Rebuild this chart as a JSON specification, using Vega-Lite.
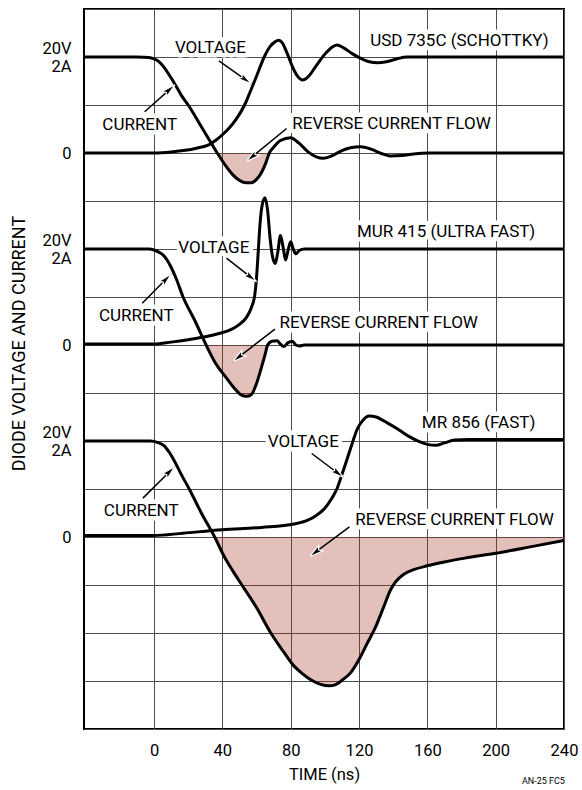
{
  "$schema": "https://vega.github.io/schema/vega-lite/v6.json",
  "width": 480,
  "height": 720,
  "autosize": {"type": "none"},
  "padding": {"left": 84, "top": 9, "right": 18, "bottom": 61},
  "background": "white",
  "config": {
    "font": "Roboto, Liberation Sans, sans-serif",
    "view": {"stroke": "black", "strokeWidth": 2},
    "axis": {"gridColor": "#4d4d4d", "gridWidth": 1, "gridOpacity": 1, "domain": false, "ticks": false, "labelColor": "black", "titleColor": "black", "labelFontWeight": "normal", "titleFontWeight": "normal"}
  },
  "title": {"text": "AN-25 FC5", "orient": "bottom", "anchor": "end", "fontSize": 9, "fontWeight": "normal", "offset": -6, "dx": -13, "color": "black"},
  "datasets": {
    "curves": [
      {"dev": "USD", "sig": "I", "t": -41, "y": 14.0}, {"dev": "USD", "sig": "I", "t": -10, "y": 14.0}, {"dev": "USD", "sig": "I", "t": -3, "y": 13.99}, {"dev": "USD", "sig": "I", "t": 0, "y": 13.96}, {"dev": "USD", "sig": "I", "t": 3, "y": 13.9}, {"dev": "USD", "sig": "I", "t": 6, "y": 13.78}, {"dev": "USD", "sig": "I", "t": 9, "y": 13.62}, {"dev": "USD", "sig": "I", "t": 12, "y": 13.45}, {"dev": "USD", "sig": "I", "t": 16, "y": 13.2}, {"dev": "USD", "sig": "I", "t": 20, "y": 13.0}, {"dev": "USD", "sig": "I", "t": 28, "y": 12.53}, {"dev": "USD", "sig": "I", "t": 37, "y": 12.0}, {"dev": "USD", "sig": "I", "t": 42, "y": 11.73}, {"dev": "USD", "sig": "I", "t": 46, "y": 11.55}, {"dev": "USD", "sig": "I", "t": 50, "y": 11.43}, {"dev": "USD", "sig": "I", "t": 54, "y": 11.38}, {"dev": "USD", "sig": "I", "t": 57, "y": 11.38}, {"dev": "USD", "sig": "I", "t": 60, "y": 11.45}, {"dev": "USD", "sig": "I", "t": 63, "y": 11.6}, {"dev": "USD", "sig": "I", "t": 65.5, "y": 11.8}, {"dev": "USD", "sig": "I", "t": 67.5, "y": 12.0}, {"dev": "USD", "sig": "I", "t": 70, "y": 12.12}, {"dev": "USD", "sig": "I", "t": 74, "y": 12.26}, {"dev": "USD", "sig": "I", "t": 80, "y": 12.32}, {"dev": "USD", "sig": "I", "t": 85, "y": 12.2}, {"dev": "USD", "sig": "I", "t": 90, "y": 12.03}, {"dev": "USD", "sig": "I", "t": 95, "y": 11.92}, {"dev": "USD", "sig": "I", "t": 99, "y": 11.89}, {"dev": "USD", "sig": "I", "t": 104, "y": 11.94}, {"dev": "USD", "sig": "I", "t": 110, "y": 12.05}, {"dev": "USD", "sig": "I", "t": 115, "y": 12.11}, {"dev": "USD", "sig": "I", "t": 121, "y": 12.13}, {"dev": "USD", "sig": "I", "t": 127, "y": 12.08}, {"dev": "USD", "sig": "I", "t": 133, "y": 11.99}, {"dev": "USD", "sig": "I", "t": 138, "y": 11.94}, {"dev": "USD", "sig": "I", "t": 145, "y": 11.95}, {"dev": "USD", "sig": "I", "t": 152, "y": 11.98}, {"dev": "USD", "sig": "I", "t": 161, "y": 12.0}, {"dev": "USD", "sig": "I", "t": 240, "y": 12.0},
      {"dev": "USD", "sig": "V", "t": -41, "y": 12.0}, {"dev": "USD", "sig": "V", "t": 0, "y": 12.0}, {"dev": "USD", "sig": "V", "t": 10, "y": 12.02}, {"dev": "USD", "sig": "V", "t": 17, "y": 12.05}, {"dev": "USD", "sig": "V", "t": 25, "y": 12.1}, {"dev": "USD", "sig": "V", "t": 32, "y": 12.17}, {"dev": "USD", "sig": "V", "t": 36, "y": 12.26}, {"dev": "USD", "sig": "V", "t": 40, "y": 12.38}, {"dev": "USD", "sig": "V", "t": 44, "y": 12.52}, {"dev": "USD", "sig": "V", "t": 48, "y": 12.7}, {"dev": "USD", "sig": "V", "t": 53, "y": 13.0}, {"dev": "USD", "sig": "V", "t": 56, "y": 13.25}, {"dev": "USD", "sig": "V", "t": 60, "y": 13.6}, {"dev": "USD", "sig": "V", "t": 64.5, "y": 14.0}, {"dev": "USD", "sig": "V", "t": 68, "y": 14.22}, {"dev": "USD", "sig": "V", "t": 71, "y": 14.32}, {"dev": "USD", "sig": "V", "t": 73, "y": 14.35}, {"dev": "USD", "sig": "V", "t": 75, "y": 14.3}, {"dev": "USD", "sig": "V", "t": 78, "y": 14.07}, {"dev": "USD", "sig": "V", "t": 81, "y": 13.8}, {"dev": "USD", "sig": "V", "t": 84, "y": 13.6}, {"dev": "USD", "sig": "V", "t": 87, "y": 13.52}, {"dev": "USD", "sig": "V", "t": 90, "y": 13.58}, {"dev": "USD", "sig": "V", "t": 95, "y": 13.82}, {"dev": "USD", "sig": "V", "t": 100, "y": 14.06}, {"dev": "USD", "sig": "V", "t": 104, "y": 14.2}, {"dev": "USD", "sig": "V", "t": 107, "y": 14.25}, {"dev": "USD", "sig": "V", "t": 111, "y": 14.19}, {"dev": "USD", "sig": "V", "t": 116, "y": 14.07}, {"dev": "USD", "sig": "V", "t": 121, "y": 13.97}, {"dev": "USD", "sig": "V", "t": 126, "y": 13.9}, {"dev": "USD", "sig": "V", "t": 131, "y": 13.88}, {"dev": "USD", "sig": "V", "t": 136, "y": 13.9}, {"dev": "USD", "sig": "V", "t": 142, "y": 13.96}, {"dev": "USD", "sig": "V", "t": 148, "y": 14.0}, {"dev": "USD", "sig": "V", "t": 240, "y": 14.0},
      {"dev": "MUR", "sig": "I", "t": -41, "y": 10.0}, {"dev": "MUR", "sig": "I", "t": -3, "y": 10.0}, {"dev": "MUR", "sig": "I", "t": 0, "y": 9.98}, {"dev": "MUR", "sig": "I", "t": 3, "y": 9.93}, {"dev": "MUR", "sig": "I", "t": 6, "y": 9.85}, {"dev": "MUR", "sig": "I", "t": 8, "y": 9.75}, {"dev": "MUR", "sig": "I", "t": 10, "y": 9.62}, {"dev": "MUR", "sig": "I", "t": 13, "y": 9.38}, {"dev": "MUR", "sig": "I", "t": 17, "y": 9.0}, {"dev": "MUR", "sig": "I", "t": 24, "y": 8.5}, {"dev": "MUR", "sig": "I", "t": 30.5, "y": 8.0}, {"dev": "MUR", "sig": "I", "t": 36, "y": 7.62}, {"dev": "MUR", "sig": "I", "t": 42, "y": 7.33}, {"dev": "MUR", "sig": "I", "t": 47, "y": 7.1}, {"dev": "MUR", "sig": "I", "t": 51, "y": 6.96}, {"dev": "MUR", "sig": "I", "t": 54, "y": 6.93}, {"dev": "MUR", "sig": "I", "t": 57, "y": 6.97}, {"dev": "MUR", "sig": "I", "t": 60, "y": 7.2}, {"dev": "MUR", "sig": "I", "t": 63, "y": 7.55}, {"dev": "MUR", "sig": "I", "t": 65, "y": 7.8}, {"dev": "MUR", "sig": "I", "t": 66.5, "y": 8.0}, {"dev": "MUR", "sig": "I", "t": 69, "y": 8.08}, {"dev": "MUR", "sig": "I", "t": 72, "y": 8.09}, {"dev": "MUR", "sig": "I", "t": 74, "y": 8.02}, {"dev": "MUR", "sig": "I", "t": 76, "y": 7.97}, {"dev": "MUR", "sig": "I", "t": 78.5, "y": 8.05}, {"dev": "MUR", "sig": "I", "t": 81, "y": 8.08}, {"dev": "MUR", "sig": "I", "t": 83, "y": 8.0}, {"dev": "MUR", "sig": "I", "t": 85, "y": 7.98}, {"dev": "MUR", "sig": "I", "t": 88, "y": 8.0}, {"dev": "MUR", "sig": "I", "t": 240, "y": 8.0},
      {"dev": "MUR", "sig": "V", "t": -41, "y": 8.02}, {"dev": "MUR", "sig": "V", "t": 0, "y": 8.02}, {"dev": "MUR", "sig": "V", "t": 10, "y": 8.06}, {"dev": "MUR", "sig": "V", "t": 20, "y": 8.11}, {"dev": "MUR", "sig": "V", "t": 30, "y": 8.17}, {"dev": "MUR", "sig": "V", "t": 38, "y": 8.24}, {"dev": "MUR", "sig": "V", "t": 45, "y": 8.32}, {"dev": "MUR", "sig": "V", "t": 50, "y": 8.43}, {"dev": "MUR", "sig": "V", "t": 54, "y": 8.57}, {"dev": "MUR", "sig": "V", "t": 57, "y": 8.78}, {"dev": "MUR", "sig": "V", "t": 59, "y": 9.05}, {"dev": "MUR", "sig": "V", "t": 60, "y": 9.4}, {"dev": "MUR", "sig": "V", "t": 61, "y": 9.95}, {"dev": "MUR", "sig": "V", "t": 62, "y": 10.5}, {"dev": "MUR", "sig": "V", "t": 63.5, "y": 10.95}, {"dev": "MUR", "sig": "V", "t": 65, "y": 11.07}, {"dev": "MUR", "sig": "V", "t": 66.5, "y": 10.8}, {"dev": "MUR", "sig": "V", "t": 68, "y": 10.2}, {"dev": "MUR", "sig": "V", "t": 69.5, "y": 9.82}, {"dev": "MUR", "sig": "V", "t": 71, "y": 9.7}, {"dev": "MUR", "sig": "V", "t": 72.5, "y": 9.95}, {"dev": "MUR", "sig": "V", "t": 74, "y": 10.28}, {"dev": "MUR", "sig": "V", "t": 75.5, "y": 10.05}, {"dev": "MUR", "sig": "V", "t": 77, "y": 9.77}, {"dev": "MUR", "sig": "V", "t": 78.5, "y": 9.98}, {"dev": "MUR", "sig": "V", "t": 80, "y": 10.15}, {"dev": "MUR", "sig": "V", "t": 81.5, "y": 10.0}, {"dev": "MUR", "sig": "V", "t": 83, "y": 9.9}, {"dev": "MUR", "sig": "V", "t": 85, "y": 9.97}, {"dev": "MUR", "sig": "V", "t": 88, "y": 10.0}, {"dev": "MUR", "sig": "V", "t": 240, "y": 10.0},
      {"dev": "MR", "sig": "I", "t": -41, "y": 6.0}, {"dev": "MR", "sig": "I", "t": -2, "y": 6.0}, {"dev": "MR", "sig": "I", "t": 2, "y": 5.97}, {"dev": "MR", "sig": "I", "t": 6, "y": 5.9}, {"dev": "MR", "sig": "I", "t": 9, "y": 5.76}, {"dev": "MR", "sig": "I", "t": 12, "y": 5.58}, {"dev": "MR", "sig": "I", "t": 16, "y": 5.3}, {"dev": "MR", "sig": "I", "t": 20.6, "y": 5.0}, {"dev": "MR", "sig": "I", "t": 28, "y": 4.48}, {"dev": "MR", "sig": "I", "t": 35.5, "y": 4.0}, {"dev": "MR", "sig": "I", "t": 41, "y": 3.6}, {"dev": "MR", "sig": "I", "t": 46, "y": 3.3}, {"dev": "MR", "sig": "I", "t": 52, "y": 2.97}, {"dev": "MR", "sig": "I", "t": 60, "y": 2.53}, {"dev": "MR", "sig": "I", "t": 68, "y": 2.02}, {"dev": "MR", "sig": "I", "t": 76, "y": 1.6}, {"dev": "MR", "sig": "I", "t": 82, "y": 1.31}, {"dev": "MR", "sig": "I", "t": 87, "y": 1.15}, {"dev": "MR", "sig": "I", "t": 92, "y": 1.02}, {"dev": "MR", "sig": "I", "t": 97.5, "y": 0.93}, {"dev": "MR", "sig": "I", "t": 102.5, "y": 0.9}, {"dev": "MR", "sig": "I", "t": 106, "y": 0.92}, {"dev": "MR", "sig": "I", "t": 109.5, "y": 1.0}, {"dev": "MR", "sig": "I", "t": 115, "y": 1.17}, {"dev": "MR", "sig": "I", "t": 120, "y": 1.45}, {"dev": "MR", "sig": "I", "t": 125, "y": 1.8}, {"dev": "MR", "sig": "I", "t": 130, "y": 2.15}, {"dev": "MR", "sig": "I", "t": 134.5, "y": 2.55}, {"dev": "MR", "sig": "I", "t": 138.5, "y": 2.9}, {"dev": "MR", "sig": "I", "t": 141.5, "y": 3.07}, {"dev": "MR", "sig": "I", "t": 146, "y": 3.22}, {"dev": "MR", "sig": "I", "t": 152, "y": 3.32}, {"dev": "MR", "sig": "I", "t": 160, "y": 3.4}, {"dev": "MR", "sig": "I", "t": 170, "y": 3.48}, {"dev": "MR", "sig": "I", "t": 182, "y": 3.56}, {"dev": "MR", "sig": "I", "t": 200, "y": 3.66}, {"dev": "MR", "sig": "I", "t": 221, "y": 3.8}, {"dev": "MR", "sig": "I", "t": 240, "y": 3.93},
      {"dev": "MR", "sig": "V", "t": -41, "y": 4.03}, {"dev": "MR", "sig": "V", "t": 0, "y": 4.03}, {"dev": "MR", "sig": "V", "t": 17, "y": 4.08}, {"dev": "MR", "sig": "V", "t": 40, "y": 4.15}, {"dev": "MR", "sig": "V", "t": 63, "y": 4.2}, {"dev": "MR", "sig": "V", "t": 82, "y": 4.27}, {"dev": "MR", "sig": "V", "t": 90, "y": 4.35}, {"dev": "MR", "sig": "V", "t": 95, "y": 4.45}, {"dev": "MR", "sig": "V", "t": 100, "y": 4.6}, {"dev": "MR", "sig": "V", "t": 104, "y": 4.8}, {"dev": "MR", "sig": "V", "t": 107, "y": 5.0}, {"dev": "MR", "sig": "V", "t": 110, "y": 5.3}, {"dev": "MR", "sig": "V", "t": 113, "y": 5.62}, {"dev": "MR", "sig": "V", "t": 116, "y": 5.95}, {"dev": "MR", "sig": "V", "t": 119, "y": 6.25}, {"dev": "MR", "sig": "V", "t": 122, "y": 6.42}, {"dev": "MR", "sig": "V", "t": 126, "y": 6.52}, {"dev": "MR", "sig": "V", "t": 130, "y": 6.5}, {"dev": "MR", "sig": "V", "t": 134, "y": 6.43}, {"dev": "MR", "sig": "V", "t": 143, "y": 6.24}, {"dev": "MR", "sig": "V", "t": 150, "y": 6.08}, {"dev": "MR", "sig": "V", "t": 155, "y": 5.99}, {"dev": "MR", "sig": "V", "t": 160, "y": 5.93}, {"dev": "MR", "sig": "V", "t": 165, "y": 5.91}, {"dev": "MR", "sig": "V", "t": 170, "y": 5.96}, {"dev": "MR", "sig": "V", "t": 176, "y": 6.02}, {"dev": "MR", "sig": "V", "t": 185, "y": 6.03}, {"dev": "MR", "sig": "V", "t": 240, "y": 6.03}
    ],
    "labels": [
      {"x": 33, "y": 14.18, "text": "VOLTAGE"}, {"x": -8.4, "y": 12.58, "text": "CURRENT"}, {"x": 139, "y": 12.6, "text": "REVERSE CURRENT FLOW"}, {"x": 178.8, "y": 14.34, "text": "USD 735C (SCHOTTKY)"},
      {"x": 35, "y": 10.03, "text": "VOLTAGE"}, {"x": -10.4, "y": 8.6, "text": "CURRENT"}, {"x": 131.5, "y": 8.45, "text": "REVERSE CURRENT FLOW"}, {"x": 171, "y": 10.36, "text": "MUR 415 (ULTRA FAST)"},
      {"x": 87.4, "y": 5.98, "text": "VOLTAGE"}, {"x": -7.5, "y": 4.54, "text": "CURRENT"}, {"x": 175.9, "y": 4.35, "text": "REVERSE CURRENT FLOW"}, {"x": 190, "y": 6.38, "text": "MR 856 (FAST)"}
    ],
    "arrows": [
      {"x1": 38, "y1": 13.92, "x2": 57, "y2": 13.44}, {"x1": -5.5, "y1": 12.86, "x2": 12.2, "y2": 13.42}, {"x1": 77.6, "y1": 12.51, "x2": 54, "y2": 11.82},
      {"x1": 42.4, "y1": 9.81, "x2": 60, "y2": 9.32}, {"x1": -6.9, "y1": 8.87, "x2": 10, "y2": 9.48}, {"x1": 70.8, "y1": 8.33, "x2": 46, "y2": 7.65},
      {"x1": 92.3, "y1": 5.74, "x2": 111, "y2": 5.24}, {"x1": -6.5, "y1": 4.81, "x2": 12.1, "y2": 5.47}, {"x1": 114.4, "y1": 4.21, "x2": 91, "y2": 3.59}
    ]
  },
  "layer": [
    {
      "data": {"name": "curves"},
      "transform": [{"filter": "datum.dev == 'USD' && datum.sig == 'I' && datum.t >= 37 && datum.t <= 67.5"}],
      "mark": {"type": "area", "interpolate": "monotone", "fill": "#a52d19", "fillOpacity": 0.3},
      "encoding": {
        "x": {"field": "t", "type": "quantitative", "scale": {"domain": [-41, 240], "nice": false, "zero": false},
          "axis": {"values": [0, 40, 80, 120, 160, 200, 240], "grid": true, "title": "TIME (ns)", "labelFontSize": 16.5, "titleFontSize": 16.5, "labelPadding": 13, "titlePadding": 8, "labelFlush": false}},
        "y": {"field": "y", "type": "quantitative", "scale": {"domain": [0, 15], "nice": false, "zero": false},
          "axis": {"values": [0, 1, 2, 3, 4, 5, 6, 7, 8, 9, 10, 11, 12, 13, 14, 15], "grid": true, "title": "DIODE VOLTAGE AND CURRENT", "titleFontSize": 18, "titleX": -65, "titleY": 334, "titleAngle": -90, "titleAlign": "center", "titleBaseline": "middle", "labelFontSize": 16.5, "labelPadding": 13, "labelLineHeight": 18.5, "labelFlush": false,
            "labelOffset": {"condition": {"test": "datum.value == 14 || datum.value == 10 || datum.value == 6", "value": -9}, "value": 0},
            "labelExpr": "(datum.value == 14 || datum.value == 10 || datum.value == 6) ? ['20V', '2A'] : ((datum.value == 12 || datum.value == 8 || datum.value == 4) ? '0' : '')"}},
        "y2": {"datum": 12}
      }
    },
    {
      "data": {"name": "curves"},
      "transform": [{"filter": "datum.dev == 'MUR' && datum.sig == 'I' && datum.t >= 30.5 && datum.t <= 66.5"}],
      "mark": {"type": "area", "interpolate": "monotone", "fill": "#a52d19", "fillOpacity": 0.3},
      "encoding": {
        "x": {"field": "t", "type": "quantitative"},
        "y": {"field": "y", "type": "quantitative"},
        "y2": {"datum": 8}
      }
    },
    {
      "data": {"name": "curves"},
      "transform": [{"filter": "datum.dev == 'MR' && datum.sig == 'I' && datum.t >= 35.5"}],
      "mark": {"type": "area", "interpolate": "monotone", "fill": "#a52d19", "fillOpacity": 0.3},
      "encoding": {
        "x": {"field": "t", "type": "quantitative"},
        "y": {"field": "y", "type": "quantitative"},
        "y2": {"datum": 4}
      }
    },
    {
      "data": {"name": "curves"},
      "mark": {"type": "line", "interpolate": "monotone", "stroke": "black", "strokeWidth": 3, "clip": true},
      "encoding": {
        "x": {"field": "t", "type": "quantitative"},
        "y": {"field": "y", "type": "quantitative"},
        "detail": [{"field": "dev"}, {"field": "sig"}]
      }
    },
    {
      "data": {"name": "labels"},
      "mark": {"type": "text", "fontSize": 17, "align": "center", "baseline": "middle", "fill": "white", "stroke": "white", "strokeWidth": 9, "strokeJoin": "round"},
      "encoding": {
        "x": {"field": "x", "type": "quantitative"},
        "y": {"field": "y", "type": "quantitative"},
        "text": {"field": "text"}
      }
    },
    {
      "data": {"name": "labels"},
      "mark": {"type": "text", "fontSize": 17, "align": "center", "baseline": "middle", "fill": "black"},
      "encoding": {
        "x": {"field": "x", "type": "quantitative"},
        "y": {"field": "y", "type": "quantitative"},
        "text": {"field": "text"}
      }
    },
    {
      "data": {"name": "arrows"},
      "mark": {"type": "rule", "stroke": "black", "strokeWidth": 1.5},
      "encoding": {
        "x": {"field": "x1", "type": "quantitative"},
        "y": {"field": "y1", "type": "quantitative"},
        "x2": {"field": "x2"},
        "y2": {"field": "y2"}
      }
    },
    {
      "data": {"name": "arrows"},
      "transform": [{"calculate": "atan2((datum.x2 - datum.x1) * 480 / 281, (datum.y2 - datum.y1) * 48) * 180 / PI", "as": "ang"}],
      "mark": {"type": "point", "shape": "M0,0L-0.55,2.2L0,1.8L0.55,2.2Z", "size": 160, "filled": true, "fill": "black", "fillOpacity": 1, "stroke": "white", "strokeWidth": 1.2, "strokeOpacity": 1},
      "encoding": {
        "x": {"field": "x2", "type": "quantitative"},
        "y": {"field": "y2", "type": "quantitative"},
        "angle": {"field": "ang", "type": "quantitative", "scale": null}
      }
    }
  ]
}
